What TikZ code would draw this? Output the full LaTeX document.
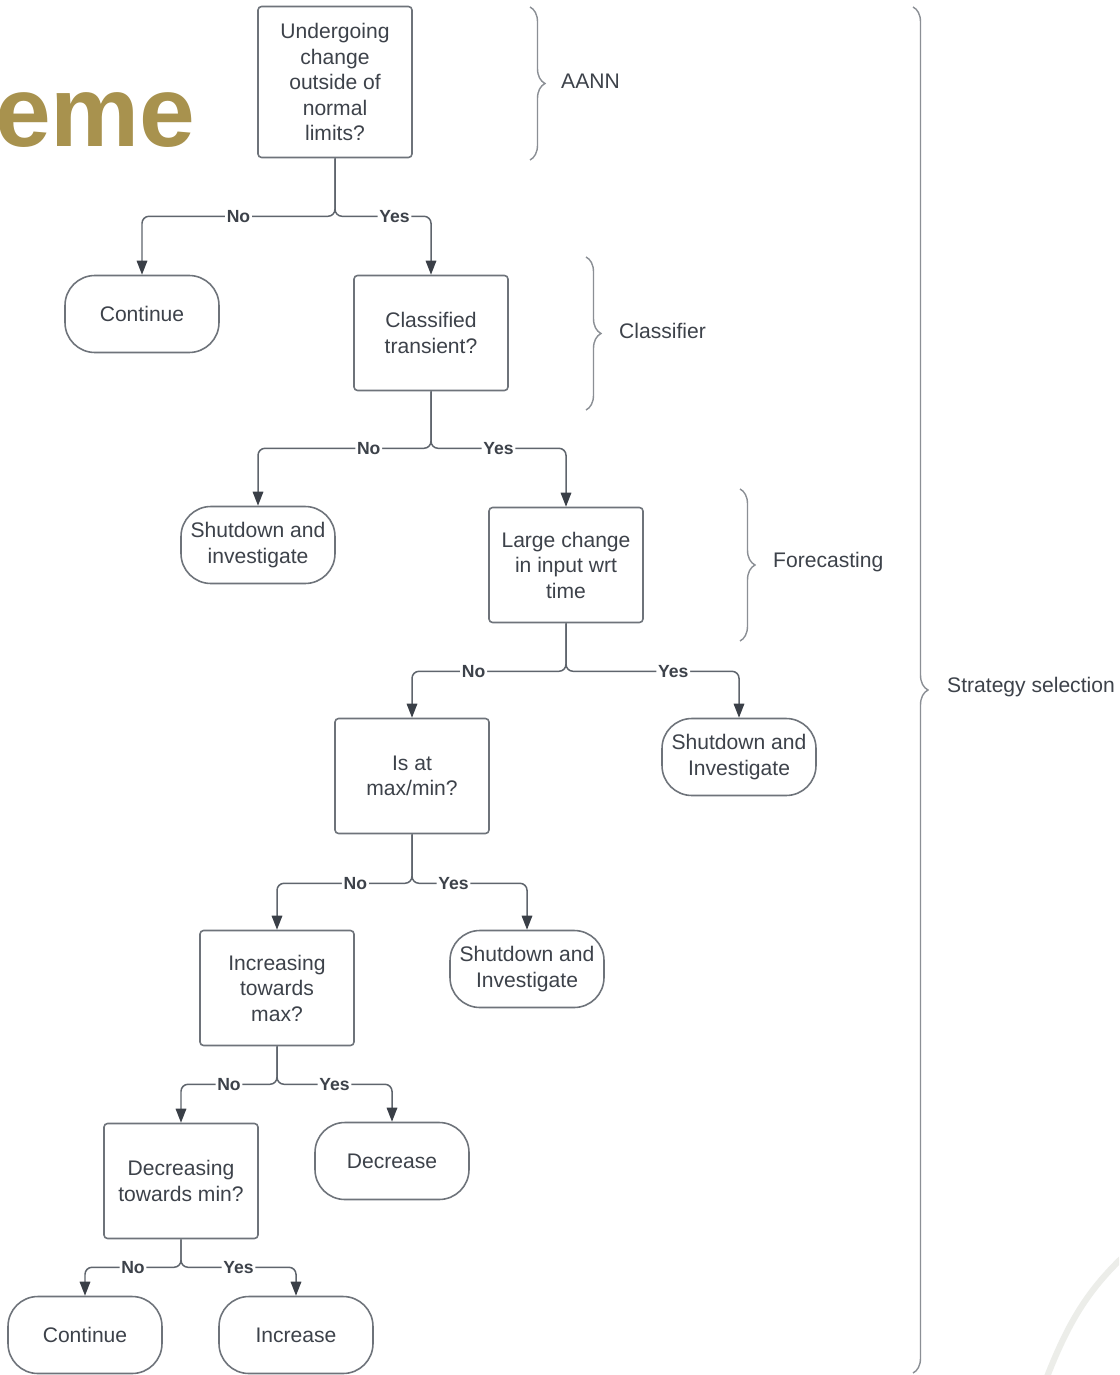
\documentclass[tikz,border=0pt]{standalone}
\usepackage{fontspec}
\setmainfont{Liberation Sans}
\usetikzlibrary{arrows.meta,decorations.pathreplacing}
\definecolor{lineGray}{HTML}{5F656D}
\definecolor{tipGray}{HTML}{3A3F47}
\definecolor{boxGray}{HTML}{6E737A}
\definecolor{textGray}{HTML}{3D424A}
\definecolor{titleGold}{HTML}{A8924E}
\definecolor{swooshGray}{HTML}{ECEDE9}
\tikzset{
  decision/.style={draw=boxGray, line width=0.9pt, rounded corners=2pt,
    minimum width=3.08cm, minimum height=2.3cm, align=center, text=textGray,
    font=\fontsize{12}{14.5}\selectfont},
  terminal/.style={decision, rounded corners=17pt, minimum height=1.54cm},
  branch/.style={draw=lineGray, line width=0.85pt, rounded corners=4pt,
    -{Triangle[length=8pt,width=6pt,color=tipGray]}},
  lbl/.style={fill=white, inner sep=1pt, text=textGray,
    font=\fontsize{10}{12}\selectfont\bfseries},
  grp/.style={draw=boxGray!80, line width=0.8pt, decorate,
    decoration={brace, amplitude=0.3cm}},
  grplbl/.style={anchor=west, text=textGray, font=\fontsize{12}{14.5}\selectfont},
}
\begin{document}
\begin{tikzpicture}[x=0.02cm, y=-0.02cm]
% page area, pixel units
\clip (0,0) rectangle (1119,1375);
\fill[white] (0,0) rectangle (1119,1375);
% title fragment and swoosh
\node[anchor=base east, inner sep=0pt, text=titleGold,
  font=\fontsize{57}{60}\selectfont\bfseries] (title) at (196,147) {heme};
\draw[swooshGray, line width=3.5pt, line cap=round]
  (1045,1382) .. controls (1068,1322) and (1088,1290) .. (1125,1255);
% decisions and outcomes
\node[decision, minimum height=3.02cm] (change) at (335,82)
  {Undergoing\\change\\outside of\\normal\\limits?};
\node[terminal] (cont1) at (142,314) {Continue};
\node[decision] (transient) at (431,333) {Classified\\transient?};
\node[terminal] (shut1) at (258,545) {Shutdown and\\investigate};
\node[decision] (large) at (566,565) {Large change\\in input wrt\\time};
\node[decision] (maxmin) at (412,776) {Is at\\max/min?};
\node[terminal] (shut2) at (739,757) {Shutdown and\\Investigate};
\node[decision] (incmax) at (277,988) {Increasing\\towards\\max?};
\node[terminal] (shut3) at (527,969) {Shutdown and\\Investigate};
\node[decision] (decmin) at (181,1181) {Decreasing\\towards min?};
\node[terminal] (decr) at (392,1161) {Decrease};
\node[terminal] (cont2) at (85,1335) {Continue};
\node[terminal] (incr) at (296,1335) {Increase};
% branches
\draw[branch] (change.south) -- ++(0,58) -| node[lbl, pos=0.25] {No} (cont1.north);
\draw[branch] (change.south) -- ++(0,58) -| node[lbl, pos=0.31] {Yes} (transient.north);
\draw[branch] (transient.south) -- ++(0,57) -| node[lbl, pos=0.18] {No} (shut1.north);
\draw[branch] (transient.south) -- ++(0,57) -| node[lbl, pos=0.25] {Yes} (large.north);
\draw[branch] (large.south) -- ++(0,48) -| node[lbl, pos=0.30] {No} (maxmin.north);
\draw[branch] (large.south) -- ++(0,48) -| node[lbl, pos=0.31] {Yes} (shut2.north);
\draw[branch] (maxmin.south) -- ++(0,49) -| node[lbl, pos=0.21] {No} (incmax.north);
\draw[branch] (maxmin.south) -- ++(0,49) -| node[lbl, pos=0.18] {Yes} (shut3.north);
\draw[branch] (incmax.south) -- ++(0,38) -| node[lbl, pos=0.25] {No} (decmin.north);
\draw[branch] (incmax.south) -- ++(0,38) -| node[lbl, pos=0.25] {Yes} (decr.north);
\draw[branch] (decmin.south) -- ++(0,28) -| node[lbl, pos=0.25] {No} (cont2.north);
\draw[branch] (decmin.south) -- ++(0,28) -| node[lbl, pos=0.25] {Yes} (incr.north);
% stage braces
\draw[grp] (530,7) -- (530,160);
\node[grplbl] (aann) at (555,81) {AANN};
\draw[grp] (586,257) -- (586,410);
\node[grplbl] (classifier) at (613,331) {Classifier};
\draw[grp] (740,489) -- (740,641);
\node[grplbl] (forecast) at (767,562) {Forecasting};
\draw[grp] (913,7) -- (913,1373);
\node[grplbl] (strategy) at (941,687) {Strategy selection};
\end{tikzpicture}
\end{document}
